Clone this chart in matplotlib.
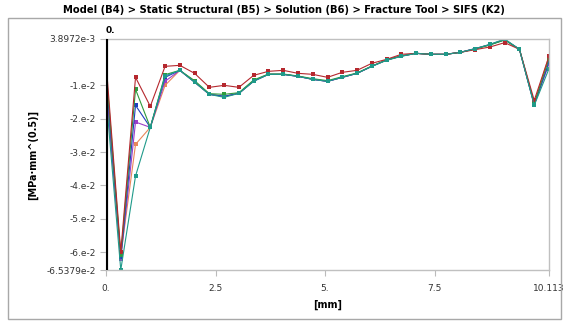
import matplotlib
matplotlib.use("Agg")
import matplotlib.pyplot as plt
import numpy as np
from matplotlib.patches import Rectangle

plt.rcParams["font.family"] = ["DejaVu Sans"]

# crack front position [mm], 31 evenly spaced nodes from 0 to 10.113
x_mm = np.linspace(0, 10.113, 31)

# K2 values, in units of 1e-2 MPa*mm^0.5
k2_red = [-0.30, -6.00, -0.76, -1.63, -0.43, -0.40, -0.64, -1.06, -1.00, -1.06,
          -0.70, -0.58, -0.55, -0.64, -0.67, -0.76, -0.61, -0.55, -0.34, -0.22,
          -0.07, -0.04, -0.07, -0.07, -0.01, 0.07, 0.15, 0.28, 0.08, -1.45, -0.13]
k2_green = [-0.50, -6.10, -1.12, -2.26, -0.68, -0.55, -0.86, -1.25, -1.27, -1.22,
            -0.84, -0.66, -0.66, -0.72, -0.80, -0.86, -0.74, -0.63, -0.42, -0.24,
            -0.12, -0.04, -0.07, -0.07, -0.01, 0.09, 0.21, 0.36, 0.08, -1.55, -0.20]
k2_blue = [-0.70, -6.15, -1.60, -2.26, -0.76, -0.55, -0.90, -1.27, -1.33, -1.24,
           -0.87, -0.67, -0.67, -0.73, -0.82, -0.88, -0.76, -0.64, -0.43, -0.24,
           -0.12, -0.04, -0.07, -0.07, -0.01, 0.10, 0.22, 0.37, 0.08, -1.58, -0.30]
k2_purple = [-1.00, -6.20, -2.10, -2.26, -0.88, -0.55, -0.90, -1.27, -1.33, -1.24,
             -0.87, -0.67, -0.67, -0.73, -0.82, -0.88, -0.76, -0.64, -0.43, -0.24,
             -0.12, -0.04, -0.07, -0.07, -0.01, 0.10, 0.22, 0.37, 0.08, -1.58, -0.35]
k2_orange = [-1.15, -6.10, -2.77, -2.26, -1.00, -0.55, -0.90, -1.27, -1.33, -1.24,
             -0.87, -0.67, -0.67, -0.73, -0.82, -0.88, -0.76, -0.64, -0.43, -0.24,
             -0.12, -0.04, -0.07, -0.07, -0.01, 0.10, 0.22, 0.37, 0.08, -1.55, -0.12]
k2_teal = [-1.30, -6.5379, -3.72, -2.26, -0.72, -0.55, -0.91, -1.27, -1.36, -1.24,
           -0.88, -0.67, -0.67, -0.73, -0.82, -0.88, -0.76, -0.64, -0.43, -0.25,
           -0.13, -0.04, -0.07, -0.07, -0.01, 0.10, 0.23, 0.38972, 0.08, -1.60, -0.50]

series = [k2_orange, k2_purple, k2_blue, k2_green, k2_red, k2_teal]
colors = ["#e8875a", "#9b3fc8", "#1f3fbf", "#2e9b3e", "#b5282e", "#1f9a8a"]

yticks = [3.8972e-3, -1e-2, -2e-2, -3e-2, -4e-2, -5e-2, -6e-2, -6.5379e-2]
ytick_labels = ["3.8972e-3", "-1.e-2", "-2.e-2", "-3.e-2", "-4.e-2", "-5.e-2",
                "-6.e-2", "-6.5379e-2"]
xticks = [0, 2.5, 5, 7.5, 10.113]
xtick_labels = ["0.", "2.5", "5.", "7.5", "10.113"]

fig = plt.figure(figsize=(5.67, 3.22), dpi=100)
ax = fig.add_axes([106/567, 1 - 270/322, 443/567, 231/322])

for vals, c in zip(series, colors):
    ax.plot(x_mm, np.array(vals) * 1e-2, '-s', color=c, lw=0.8, ms=2.5,
            markeredgewidth=0)

ax.axvline(0, color='k', lw=3, zorder=5)
ax.text(0, 0.0050, "0.", fontsize=6.5, fontweight='bold', ha='left', va='bottom')

ax.set_xlim(0, 10.113)
ax.set_ylim(-6.5379e-2, 3.8972e-3)
ax.set_xticks(xticks)
ax.set_xticklabels(xtick_labels)
ax.set_yticks(yticks)
ax.set_yticklabels(ytick_labels)
ax.tick_params(axis='both', labelsize=6.5, colors='#bbbbbb', labelcolor='#333333',
               length=4, width=0.8)
ax.tick_params(axis='x', pad=6)
for s in ax.spines.values():
    s.set_color('#c0c0c0')
    s.set_linewidth(1)

ax.set_xlabel("[mm]", fontsize=7, fontweight='bold', labelpad=5)
ax.set_ylabel("[MPa·mm^(0.5)]", fontsize=7, fontweight='bold', labelpad=6)
fig.text(0.5, 1 - 10/322, "Model (B4) > Static Structural (B5) > Solution (B6) > Fracture Tool > SIFS (K2)",
         fontsize=7.2, fontweight='bold', ha='center', va='center')

fig.patches.append(Rectangle((8/567, 1 - 319/322), 553/567, 301/322,
                             transform=fig.transFigure, fill=False,
                             edgecolor='#a8a8a8', lw=1))

fig.savefig("out.png", dpi=100)
